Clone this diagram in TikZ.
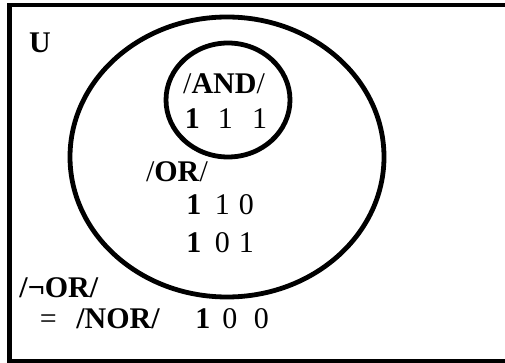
\documentclass[tikz,border=0pt]{standalone}
\usepackage{fontspec}
\setmainfont{Liberation Serif}
\usetikzlibrary{positioning}
\newcommand{\bitgap}{\hspace{0.45em}}

\begin{document}
\begin{tikzpicture}[x=1pt, y=-1pt, font=\fontsize{30}{36}\selectfont,
	setline/.style={line width=4.8pt},
	lbl/.style={inner sep=0pt, anchor=center}]
	\def\W{505}
	\def\H{363}
	
	\useasboundingbox (0,0) rectangle (\W,\H);
	\clip (0,0) rectangle (\W,\H);
	
	\draw[setline]	(9.5,5) rectangle (520,361);
	\draw[setline]	(227,157) ellipse [x radius=157pt, y radius=140pt];
	\draw[setline]	(228,100) ellipse [x radius=62pt, y radius=57pt];
	
	\node[lbl] (U)		at (40,43)	{\textbf{U}};
	\node[lbl] (and)	at (224,84)	{/\textbf{AND}/};
	\node[lbl] (androw)	at (226,119)	{\textbf{1}\hspace{0.6em}1\hspace{0.65em}1};
	\node[lbl] (or)		at (177,172)	{/\textbf{OR}/};
	\node[lbl] (orrowa)	at (220,205)	{\textbf{1}\bitgap 1\hspace{0.3em}0};
	\node[lbl] (orrowb)	at (220,243)	{\textbf{1}\bitgap 0\hspace{0.3em}1};
	\node[lbl] (nor)	at (59,288)	{\textbf{/¬OR/}};
	\node[lbl] (norname)	at (100,319)	{=\hspace{0.65em}\textbf{/NOR/}};
	\node[lbl] (norrow)	at (232,319)	{\textbf{1}\hspace{0.4em}0\hspace{0.55em}0};
\end{tikzpicture}
\end{document}
